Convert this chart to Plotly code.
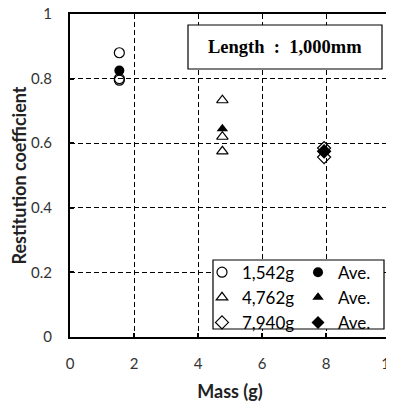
import plotly.graph_objects as go

# Data
x_1542 = [1.542, 1.542, 1.542]
y_1542 = [0.88, 0.80, 0.795]
x_1542_ave = [1.542]
y_1542_ave = [0.825]

x_4762 = [4.762, 4.762, 4.762]
y_4762 = [0.733, 0.62, 0.575]
x_4762_ave = [4.762]
y_4762_ave = [0.645]

x_7940 = [7.940, 7.940, 7.940]
y_7940 = [0.585, 0.575, 0.557]
x_7940_ave = [7.940]
y_7940_ave = [0.575]

names_open = ["1,542g", "4,762g", "7,940g"]
names_ave = ["Ave.", "Ave.", "Ave."]

FONT = "Lato"
fig = go.Figure()

open_sets = [(x_1542, y_1542, "circle-open"), (x_4762, y_4762, "triangle-up-open"), (x_7940, y_7940, "diamond-open")]
ave_sets = [(x_1542_ave, y_1542_ave, "circle"), (x_4762_ave, y_4762_ave, "triangle-up"), (x_7940_ave, y_7940_ave, "diamond")]

for (xs, ys, sym), nm in zip(open_sets, names_open):
    fig.add_trace(go.Scatter(x=xs, y=ys, mode="markers", name=nm, legend="legend",
                             marker=dict(symbol=sym, size=10, color="black", line=dict(width=1.2, color="black"))))
for (xs, ys, sym), nm in zip(ave_sets, names_ave):
    fig.add_trace(go.Scatter(x=xs, y=ys, mode="markers", name=nm, legend="legend2",
                             marker=dict(symbol=sym, size=10, color="black", line=dict(width=0))))

axis_common = dict(showline=True, linewidth=2, linecolor="black", mirror=True,
                   showgrid=True, gridcolor="black", gridwidth=1, griddash="5px,3px",
                   ticks="inside", ticklen=4, tickwidth=2, tickcolor="black",
                   zeroline=False, tickfont=dict(family=FONT, size=15, color="#333"),
                   automargin=False, ticklabeloverflow="allow")

fig.update_xaxes(range=[0, 10], dtick=2, ticklabelstandoff=12, **axis_common,
                 title=dict(text="<b>Mass (g)</b>", font=dict(family=FONT, size=18, color="#222"), standoff=14))
fig.update_yaxes(range=[0, 1], dtick=0.2, ticklabelstandoff=13, **axis_common,
                 title=dict(text="<b>Restitution coefficient</b>", font=dict(family=FONT, size=18, color="#222"), standoff=2))

# Title box
fig.add_shape(type="rect", xref="paper", yref="paper", x0=(188-70)/320, x1=(382-70)/320,
              y0=(337-69)/323, y1=(337-25)/323, line=dict(color="black", width=1.2), fillcolor="white", layer="above")
fig.add_annotation(xref="paper", yref="paper", x=(285-70)/320, y=(337-47)/323, showarrow=False,
                   xanchor="center", yanchor="middle",
                   text="<b>Length&nbsp; :&nbsp; 1,000mm</b>", font=dict(family="Liberation Serif", size=18.5, color="black"))

# Legend box
fig.add_shape(type="rect", xref="paper", yref="paper", x0=(213-70)/320, x1=(384-70)/320,
              y0=(337-329)/323, y1=(337-260)/323, line=dict(color="black", width=1.2), fillcolor="white", layer="above")

leg_font = dict(family=FONT, size=17, color="black")
fig.update_layout(
    width=386, height=398,
    margin=dict(l=62, r=4, t=6, b=69, autoexpand=False),
    plot_bgcolor="white", paper_bgcolor="white",
    legend=dict(x=(202-70)/320, y=0.255, xanchor="left", yanchor="top", bgcolor="rgba(0,0,0,0)",
                font=leg_font, itemwidth=30, tracegroupgap=0),
    legend2=dict(x=(298-70)/320, y=0.255, xanchor="left", yanchor="top", bgcolor="rgba(0,0,0,0)",
                 font=leg_font, itemwidth=30, tracegroupgap=0),
)

fig.write_html("out.html")
